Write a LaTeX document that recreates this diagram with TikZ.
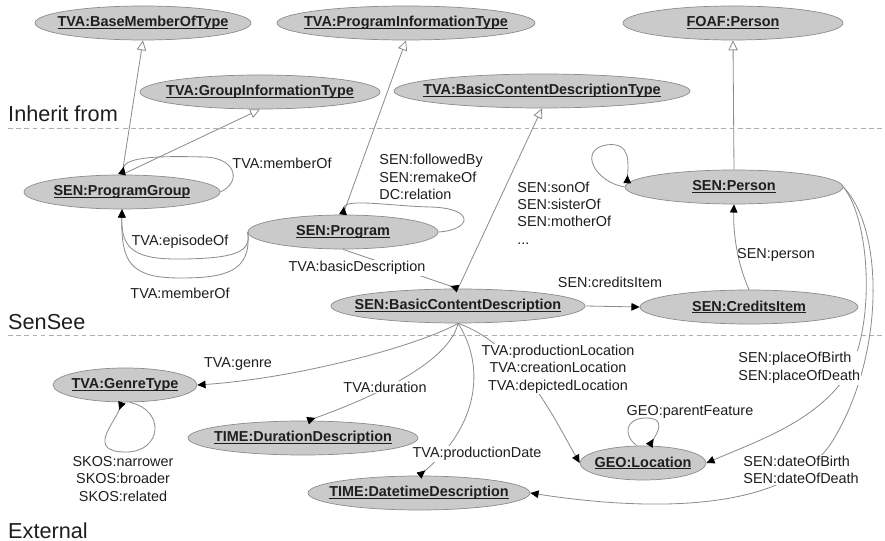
\documentclass[tikz,border=0pt]{standalone}
\usepackage{fontspec}
\setmainfont{Liberation Sans}
\usetikzlibrary{shapes.geometric,arrows.meta}

\definecolor{clsfill}{RGB}{202,202,202}
\definecolor{clsborder}{RGB}{140,140,140}
\definecolor{edgegray}{RGB}{140,140,140}
\definecolor{sepgray}{RGB}{175,175,175}
\definecolor{txt}{RGB}{30,30,30}

% class names: bold, underlined, zero width so the ellipse keeps its own size
\newsavebox\clsbox
\newcommand\clsname[1]{\sbox\clsbox{#1}\makebox[0pt]{\rlap{\rule[-1.8pt]{\wd\clsbox}{0.85pt}}\usebox\clsbox}}

\tikzset{
  cls/.style={ellipse, draw=clsborder, fill=clsfill, line width=0.6pt,
    minimum height=1.02cm, inner sep=0pt, text=txt,
    font=\fontsize{12.3}{14.9}\selectfont\bfseries},
  wd/.style={minimum width=#1*0.03cm},
  rel/.style={draw=edgegray, line width=0.7pt,
    -{Triangle[length=7pt,width=6.5pt,color=black]}},
  relr/.style={draw=edgegray, line width=0.7pt,
    -{Triangle[reversed,length=7pt,width=6.5pt,color=black]}},
  isa/.style={draw=edgegray, line width=0.7pt,
    -{Triangle[open,length=8.5pt,width=8pt,fill=white]}},
  lbl/.style={text=txt, inner sep=1pt, font=\fontsize{12.3}{14.9}\selectfont},
  lblw/.style={lbl, fill=white},
  section/.style={text=txt, inner sep=0pt, font=\fontsize{18.5}{22}\selectfont},
  sep/.style={draw=sepgray, line width=0.7pt, dash pattern=on 4pt off 3pt},
}

\begin{document}
\begin{tikzpicture}[x=0.03cm, y=-0.03cm]
\useasboundingbox (0,0) rectangle (885,541);

% layer separators
\draw[sep] (8,128) coordinate (s1a) -- (885,128) coordinate (s1b);
\draw[sep] (8,335) coordinate (s2a) -- (885,335) coordinate (s2b);
\node[section, anchor=base west] (secA) at (8,122) {Inherit from};
\node[section, anchor=base west] (secB) at (8,330) {SenSee};
\node[section, anchor=base west] (secC) at (8,538) {External};

% classes
\node[cls, wd=216] (bmot)    at (143,23)  {\clsname{TVA:BaseMemberOfType}};
\node[cls, wd=258] (pit)     at (406,23)  {\clsname{TVA:ProgramInformationType}};
\node[cls, wd=220] (foaf)    at (733,23)  {\clsname{FOAF:Person}};
\node[cls, wd=240] (git)     at (260,92)  {\clsname{TVA:GroupInformationType}};
\node[cls, wd=296] (bcdt)    at (542,91)  {\clsname{TVA:BasicContentDescriptionType}};
\node[cls, wd=196] (pg)      at (122,192) {\clsname{SEN:ProgramGroup}};
\node[cls, wd=190] (prog)    at (343,232) {\clsname{SEN:Program}};
\node[cls, wd=218] (person)  at (734,187) {\clsname{SEN:Person}};
\node[cls, wd=254] (bcd)     at (458,306) {\clsname{SEN:BasicContentDescription}};
\node[cls, wd=218] (credits) at (749,307) {\clsname{SEN:CreditsItem}};
\node[cls, wd=144] (genre)   at (125,385) {\clsname{TVA:GenreType}};
\node[cls, wd=230] (dur)     at (303,438) {\clsname{TIME:DurationDescription}};
\node[cls, wd=222] (dt)      at (419,493) {\clsname{TIME:DatetimeDescription}};
\node[cls, wd=126] (geo)     at (643,463) {\clsname{GEO:Location}};

% inheritance
\draw[isa] (pg.north) -- (bmot.south);
\draw[isa] (pg.north) -- (git.south);
\draw[isa] (prog.north) -- (pit.south);
\draw[isa] (bcd.north) -- (bcdt.south);
\draw[isa] (person.north) -- (foaf.south);

% self loops
\draw[relr] (pg.east) .. controls (242,182) and (236,158) .. (205,157)
            .. controls (165,156) and (126,156) .. (pg.north);
\draw[relr] (prog.east) .. controls (472,230) and (476,208) .. (430,207)
            .. controls (390,206) and (345,198) .. (prog.north);
\draw[relr] (person.west) .. controls (595,182) and (578,150) .. (606,145)
            .. controls (632,141) and (628,165) .. (person.178);
\draw[relr] (geo.110) .. controls (622,434) and (626,418) .. (646,418)
            .. controls (666,418) and (658,432) .. (geo.70);
\draw[relr] (genre.-75) .. controls (166,410) and (162,452) .. (126,452)
            .. controls (86,452) and (114,424) .. (genre.-100);

% ProgramGroup membership
\draw[rel] (prog.west) .. controls (252,252) and (235,258) .. (185,259)
           .. controls (135,260) and (121,250) .. (pg.south);
\draw[rel] (prog.west) .. controls (252,272) and (225,278) .. (180,278)
           .. controls (130,278) and (121,262) .. (pg.south);

% content description
\draw[relr] (prog.south) -- (bcd.north);
\draw[rel] (bcd.east) -- (credits.west);
\draw[rel] (credits.north) .. controls (738,265) and (733,235) .. (person.south);
\draw[rel] (bcd.south) .. controls (420,345) and (300,378) .. (genre.east);
\draw[relr] (bcd.south) .. controls (450,360) and (380,395) .. (dur.75);
\draw[relr] (bcd.south) .. controls (485,365) and (480,425) .. (dt.north);
\draw[rel] (bcd.south) .. controls (520,345) and (555,420) .. (geo.west);

% person places and dates
\draw[rel] (person.east) .. controls (870,220) and (875,320) .. (850,370)
           .. controls (820,420) and (760,440) .. (geo.east);
\draw[rel] (person.east) .. controls (885,230) and (885,360) .. (830,445)
           .. controls (780,515) and (640,510) .. (dt.east);

% edge labels
\node[lbl] (lMember1) at (282,163) {TVA:memberOf};
\node[lbl, anchor=west, align=left] (lProgLoop) at (378,177)
  {SEN:followedBy\\SEN:remakeOf\\DC:relation};
\node[lbl] (lEpisode) at (180,242) {TVA:episodeOf};
\node[lbl] (lMember2) at (180,293) {TVA:memberOf};
\node[lblw] (lBasic) at (357,268) {TVA:basicDescription};
\node[lbl, anchor=west, align=left] (lFamily) at (516,213)
  {SEN:sonOf\\SEN:sisterOf\\SEN:motherOf\\...};
\node[lbl] (lCredits) at (610,282) {SEN:creditsItem};
\node[lbl] (lPerson) at (776,255) {SEN:person};
\node[lbl] (lGenre) at (238,364) {TVA:genre};
\node[lblw] (lDur) at (385,387) {TVA:duration};
\node[lblw] (lDate) at (477,454) {TVA:productionDate};
\node[lblw, align=center] (lLoc) at (558,369)
  {TVA:productionLocation\\TVA:creationLocation\\TVA:depictedLocation};
\node[lbl] (lParent) at (690,412) {GEO:parentFeature};
\node[lbl, align=center] (lSkos) at (123,479)
  {SKOS:narrower\\SKOS:broader\\SKOS:related};
\node[lblw, anchor=west, align=left] (lPlace) at (737,368)
  {SEN:placeOfBirth\\SEN:placeOfDeath};
\node[lblw, anchor=west, align=left] (lDates) at (742,470)
  {SEN:dateOfBirth\\SEN:dateOfDeath};
\end{tikzpicture}
\end{document}
